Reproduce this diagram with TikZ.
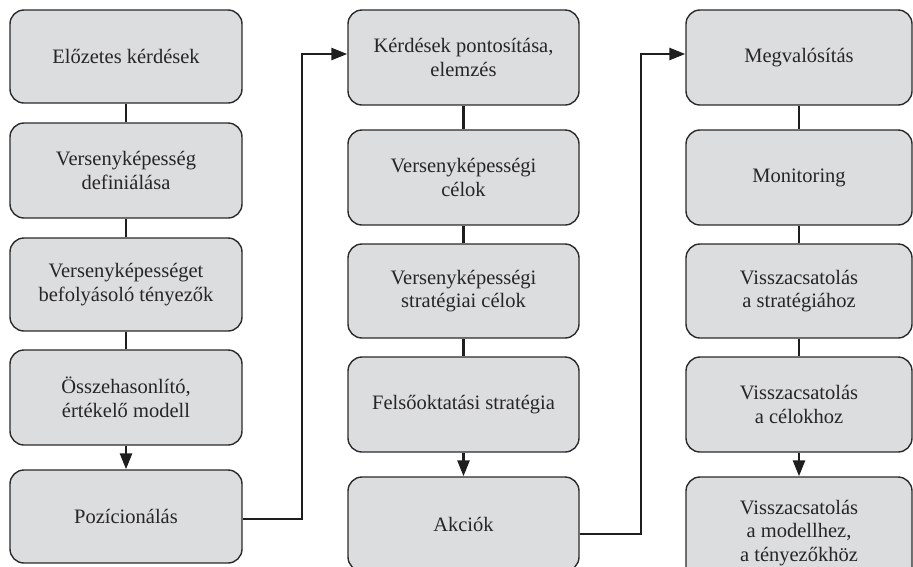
\documentclass[tikz,border=0pt]{standalone}
\usepackage{fontspec}
\setmainfont{Liberation Serif}
\usetikzlibrary{arrows.meta}
\definecolor{boxfill}{HTML}{DCDDDF}
\definecolor{boxline}{HTML}{2A2A2A}
\definecolor{conncol}{HTML}{1E1E1E}
\begin{document}
\begin{tikzpicture}[x=1pt,y=-1pt,
  stepbox/.style={draw=boxline, line width=1.4pt, fill=boxfill, rounded corners=14pt,
    align=center, inner sep=2pt, font=\fontsize{20.5}{23.5}\selectfont, text=black!85},
  conn/.style={draw=conncol, line width=2.6pt},
  arr/.style={conn, -{Triangle[length=16pt,width=12pt]}}]
\useasboundingbox (0,0) rectangle (913,566);
\clip (0,0) rectangle (913,566);
% column 1
\node[stepbox, minimum width=232pt, minimum height=93pt] (a1) at (126,56.5) {Előzetes kérdések};
\node[stepbox, minimum width=232pt, minimum height=95pt] (a2) at (126,170.5) {Versenyképesség\\definiálása};
\node[stepbox, minimum width=232pt, minimum height=93pt] (a3) at (126,284.5) {Versenyképességet\\befolyásoló tényezők};
\node[stepbox, minimum width=232pt, minimum height=95pt] (a4) at (126,397.5) {Összehasonlító,\\értékelő modell};
\node[stepbox, minimum width=232pt, minimum height=93pt] (a5) at (126,516.5) {Pozícionálás};
% column 2
\node[stepbox, minimum width=231pt, minimum height=95pt] (b1) at (463.5,57.5) {Kérdések pontosítása,\\elemzés};
\node[stepbox, minimum width=231pt, minimum height=95pt] (b2) at (463.5,177.5) {Versenyképességi\\célok};
\node[stepbox, minimum width=231pt, minimum height=94pt] (b3) at (463.5,291) {Versenyképességi\\stratégiai célok};
\node[stepbox, minimum width=231pt, minimum height=95pt] (b4) at (463.5,404.5) {Felsőoktatási stratégia};
\node[stepbox, minimum width=231pt, minimum height=94pt] (b5) at (463.5,524) {Akciók};
% column 3
\node[stepbox, minimum width=226pt, minimum height=95pt] (c1) at (799,57.5) {Megvalósítás};
\node[stepbox, minimum width=226pt, minimum height=95pt] (c2) at (799,177.5) {Monitoring};
\node[stepbox, minimum width=226pt, minimum height=94pt] (c3) at (799,291) {Visszacsatolás\\a stratégiához};
\node[stepbox, minimum width=226pt, minimum height=95pt] (c4) at (799,404.5) {Visszacsatolás\\a célokhoz};
\node[stepbox, minimum width=226pt, minimum height=112pt] (c5) at (799,533) {Visszacsatolás\\a modellhez,\\a tényezőkhöz};
% vertical links
\draw[conn] (a1) -- (a2);
\draw[conn] (a2) -- (a3);
\draw[conn] (a3) -- (a4);
\draw[arr] (a4) -- (a5);
\draw[conn] (b1) -- (b2);
\draw[conn] (b2) -- (b3);
\draw[conn] (b3) -- (b4);
\draw[arr] (b4) -- (b5);
\draw[conn] (c1) -- (c2);
\draw[conn] (c2) -- (c3);
\draw[conn] (c3) -- (c4);
\draw[arr] (c4) -- (c5);
% column transfers
\coordinate (s1) at ([yshift=-2.5pt]a5.east);
\coordinate (t1) at ([yshift=3.5pt]b1.west);
\coordinate (s2) at ([yshift=-10pt]b5.east);
\coordinate (t2) at ([yshift=3.5pt]c1.west);
\coordinate (j1) at (302,0);
\coordinate (j2) at (641,0);
\draw[arr] (s1) -- (s1 -| j1) -- (j1 |- t1) -- (t1);
\draw[arr] (s2) -- (s2 -| j2) -- (j2 |- t2) -- (t2);
\end{tikzpicture}
\end{document}
